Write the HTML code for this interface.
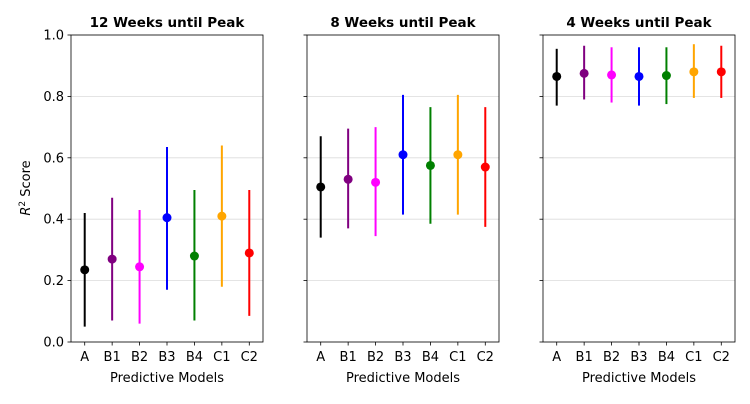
<!DOCTYPE html>
<html><head><meta charset="utf-8"><style>
body{margin:0;background:#fff;font-family:"DejaVu Sans",sans-serif;}
svg text{font-family:"DejaVu Sans","Liberation Sans",sans-serif;}
</style></head><body>
<svg id="chart" width="750" height="400" xmlns="http://www.w3.org/2000/svg"></svg>
<script>
const categories=["A","B1","B2","B3","B4","C1","C2"];
const colors=["black","purple","magenta","blue","green","orange","red"];
const panelTitles=["12 Weeks until Peak","8 Weeks until Peak","4 Weeks until Peak"];
const means12=[0.235,0.27,0.245,0.405,0.28,0.41,0.29];
const low12=[0.05,0.07,0.06,0.17,0.07,0.18,0.085];
const high12=[0.42,0.47,0.43,0.635,0.495,0.64,0.495];
const means8=[0.505,0.53,0.52,0.61,0.575,0.61,0.57];
const low8=[0.34,0.37,0.345,0.415,0.385,0.415,0.375];
const high8=[0.67,0.695,0.70,0.805,0.765,0.805,0.765];
const means4=[0.865,0.875,0.87,0.865,0.868,0.88,0.88];
const low4=[0.77,0.79,0.78,0.77,0.775,0.795,0.795];
const high4=[0.955,0.965,0.96,0.96,0.96,0.97,0.965];
const yTicks=[0,0.2,0.4,0.6,0.8,1.0];
const yTickLabels=["0.0","0.2","0.4","0.6","0.8","1.0"];

const svg=document.getElementById('chart');
const NS="http://www.w3.org/2000/svg";
function mk(tag,attrs,parent){const e=document.createElementNS(NS,tag);for(const k in attrs)e.setAttribute(k,attrs[k]);(parent||svg).appendChild(e);return e;}
const panels=[{x0:71,m:means12,l:low12,h:high12},{x0:307,m:means8,l:low8,h:high8},{x0:543,m:means4,l:low4,h:high4}];
const PW=192,plotTop=35,plotBot=342;
function yS(v){return plotBot-(v-0)/(1-0)*(plotBot-plotTop);}
panels.forEach((p,pi)=>{
  const xS=i=>p.x0+(i+0.5)/7*PW;
  const g=mk('g',{});
  
  
  yTicks.forEach((t,ti)=>{
    const gl=mk('line',{x1:p.x0,x2:p.x0+PW,y1:yS(t),y2:yS(t),stroke:'#dcdcdc','stroke-width':0.8},g);
    
    
    mk('line',{x1:p.x0-3.5,x2:p.x0,y1:yS(t),y2:yS(t),stroke:'#000','stroke-width':0.8},g);
    if(pi===0){
      const tl=mk('text',{x:p.x0-7,y:yS(t)+4.5,'text-anchor':'end','font-size':13},g);
      tl.textContent=yTickLabels[ti];
      
      
    }
  });
  categories.forEach((c,i)=>{
    const x=xS(i);
    mk('line',{x1:x,x2:x,y1:plotBot,y2:plotBot+3.5,stroke:'#000','stroke-width':0.8},g);
    const tl=mk('text',{x:x,y:plotBot+19,'text-anchor':'middle','font-size':13},g);
    tl.textContent=c;
    
    
    const eb=mk('line',{x1:x,x2:x,y1:yS(p.l[i]),y2:yS(p.h[i]),stroke:colors[i],'stroke-width':2},g);
    
    
    const pt=mk('circle',{cx:x,cy:yS(p.m[i]),r:4.5,fill:colors[i]},g);
    
    
  });
  mk('rect',{x:p.x0,y:plotTop,width:PW,height:plotBot-plotTop,fill:'none',stroke:'#000','stroke-width':0.8},g);
  const tt=mk('text',{x:p.x0+PW/2,y:plotTop-8,'text-anchor':'middle','font-size':13.5,'font-weight':'bold'},g);
  tt.textContent=panelTitles[pi];
  
  
  const xl=mk('text',{x:p.x0+PW/2,y:382,'text-anchor':'middle','font-size':13},g);
  xl.textContent="Predictive Models";
  
  
});
const yl=mk('text',{x:30,y:188,'text-anchor':'middle','font-size':13,transform:'rotate(-90 30 188)'});
yl.innerHTML='<tspan font-style="italic">R</tspan><tspan baseline-shift="super" font-size="9">2</tspan> Score';


</script>
</body></html>
